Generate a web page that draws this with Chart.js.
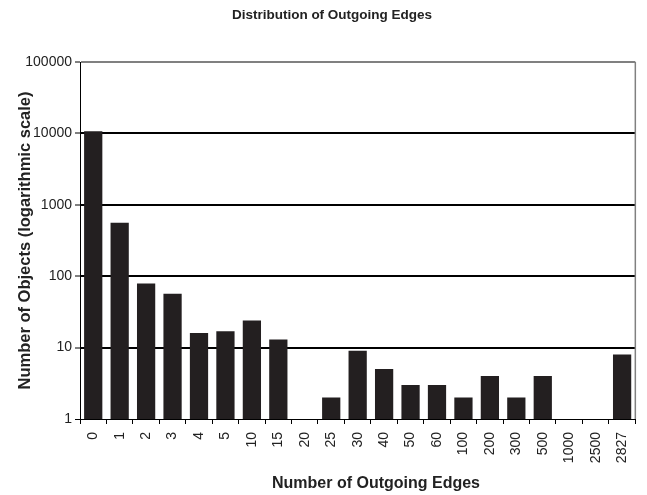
<!DOCTYPE html>
<html>
<head>
<meta charset="utf-8">
<script src="https://cdn.jsdelivr.net/npm/chart.js@4"></script>
<style>
  html, body { margin: 0; padding: 0; background: #fff; }
  #wrap { width: 647px; height: 495px; }
</style>
</head>
<body>
<div id="wrap"><canvas id="chart" width="647" height="495"></canvas></div>
<script>
// datos
const categories = ['0','1','2','3','4','5','10','15','20','25','30','40','50','60','100','200','300','500','1000','2500','2827'];
const objectCounts = [10700, 560, 79, 57, 16, 17, 24, 13, null, 2, 9, 5, 3, 3, 2, 4, 2, 4, null, null, 8];
const yTicks = [1, 10, 100, 1000, 10000, 100000];

const FONT = "'Liberation Sans', Arial, sans-serif";
const TEXT = '#222';

// titulos y borde derecho dibujados a mano
const extras = {
  id: 'extras',
  afterDraw(chart) {
    const ctx = chart.ctx;
    const a = chart.chartArea;
    ctx.save();
    ctx.strokeStyle = '#808080';
    ctx.lineWidth = 1.5;
    ctx.beginPath();
    ctx.moveTo(a.right, a.top);
    ctx.lineTo(a.right, a.bottom);
    ctx.stroke();

    ctx.fillStyle = TEXT;
    ctx.textAlign = 'center';
    ctx.textBaseline = 'middle';
    ctx.font = 'bold 13.5px ' + FONT;
    ctx.fillText('Distribution of Outgoing Edges', 332, 15);
    ctx.font = 'bold 16px ' + FONT;
    ctx.fillText('Number of Outgoing Edges', 376, 484);
    ctx.restore();
  }
};

const chart = new Chart(document.getElementById('chart').getContext('2d'), {
  type: 'bar',
  data: {
    labels: categories,
    datasets: [{
      data: objectCounts,
      backgroundColor: '#231f20',
      borderWidth: 0,
      barPercentage: 0.69,
      categoryPercentage: 1
    }]
  },
  options: {
    responsive: false,
    animation: false,
    layout: { padding: { top: 62, right: 4, left: 0, bottom: 0 } },
    plugins: {
      legend: { display: false },
      title: { display: false },
      tooltip: { enabled: false }
    },
    scales: {
      x: {
        grid: {
          offset: true,
          drawOnChartArea: false,
          tickLength: 5,
          color: '#000'
        },
        border: { color: '#000', width: 1 },
        ticks: {
          minRotation: 90,
          maxRotation: 90,
          autoSkip: false,
          padding: 8,
          color: TEXT,
          font: { family: FONT, size: 14 }
        },
        afterFit(scale) { scale.height = 76; }
      },
      y: {
        type: 'logarithmic',
        min: 1,
        max: 100000,
        afterBuildTicks(scale) { scale.ticks = yTicks.map(v => ({ value: v })); },
        ticks: {
          color: TEXT,
          padding: 3,
          font: { family: FONT, size: 14 },
          callback: v => String(v)
        },
        grid: {
          tickLength: 5,
          tickColor: '#000',
          tickWidth: 1,
          color: c => (c.tick && c.tick.value === 100000) ? '#808080' : '#000',
          lineWidth: c => (c.tick && c.tick.value === 1) ? 1 : 2
        },
        border: { color: '#000', width: 1 },
        title: {
          display: true,
          text: 'Number of Objects (logarithmic scale)',
          color: TEXT,
          font: { family: FONT, size: 16.5, weight: 'bold' },
          padding: { top: 16, bottom: 0 }
        },
        afterFit(scale) { scale.width = 80; }
      }
    }
  },
  plugins: [extras]
});
</script>
</body>
</html>
